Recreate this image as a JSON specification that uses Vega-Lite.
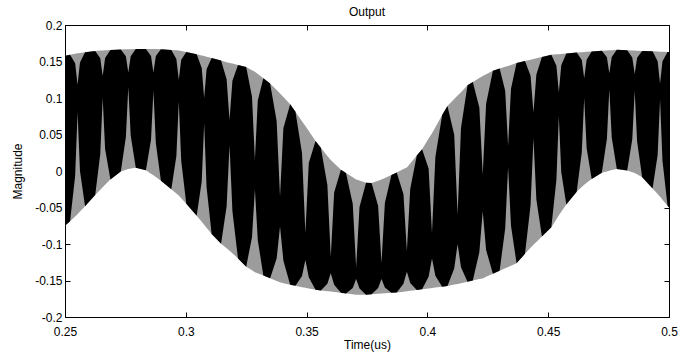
{
  "$schema": "https://vega.github.io/schema/vega-lite/v6.json",
  "width": 604,
  "height": 292,
  "autosize": {"type": "none"},
  "padding": {"left": 65, "top": 25, "right": 20, "bottom": 43},
  "background": "white",
  "config": {
    "view": {"stroke": null},
    "font": "Liberation Sans",
    "axis": {
      "labelFont": "Liberation Sans", "labelFontSize": 12, "labelColor": "black",
      "titleFont": "Liberation Sans", "titleFontSize": 12, "titleFontWeight": "normal", "titleColor": "black",
      "domainColor": "black", "domainWidth": 1, "tickColor": "black", "tickWidth": 1,
      "grid": false, "tickSize": -5
    }
  },
  "title": {"text": "Output", "fontSize": 12, "fontWeight": "normal", "font": "Liberation Sans", "color": "black", "offset": 0},
  "data": {"values": [
    {"x":0.25,"u":0.158,"l":-0.075,"t":0.158,"b":-0.075},
    {"x":0.2521,"u":0.1593,"l":-0.0687,"t":0.1593,"b":-0.0687},
    {"x":0.2542,"u":0.1606,"l":-0.0624,"t":0.1476,"b":-0.0067},
    {"x":0.2552,"u":0.1613,"l":-0.0592,"t":0.118,"b":0.08},
    {"x":0.2562,"u":0.1618,"l":-0.0556,"t":0.1488,"b":0.0001},
    {"x":0.2583,"u":0.1628,"l":-0.0483,"t":0.1628,"b":-0.0483},
    {"x":0.2625,"u":0.1643,"l":-0.0328,"t":0.1643,"b":-0.0328},
    {"x":0.2646,"u":0.1649,"l":-0.0257,"t":0.1543,"b":0.0232},
    {"x":0.2656,"u":0.1652,"l":-0.0222,"t":0.13,"b":0.1},
    {"x":0.2666,"u":0.1654,"l":-0.0187,"t":0.1548,"b":0.0302},
    {"x":0.2688,"u":0.1657,"l":-0.0117,"t":0.1657,"b":-0.0117},
    {"x":0.2731,"u":0.1664,"l":-0.0007,"t":0.1664,"b":-0.0007},
    {"x":0.2752,"u":0.1667,"l":0.0016,"t":0.1571,"b":0.0465},
    {"x":0.2762,"u":0.1669,"l":0.0028,"t":0.135,"b":0.115},
    {"x":0.2772,"u":0.1669,"l":0.0033,"t":0.1573,"b":0.0482},
    {"x":0.2793,"u":0.167,"l":0.0043,"t":0.167,"b":0.0043},
    {"x":0.2835,"u":0.167,"l":0.0011,"t":0.167,"b":0.0011},
    {"x":0.2856,"u":0.167,"l":-0.0036,"t":0.1574,"b":0.0428},
    {"x":0.2866,"u":0.167,"l":-0.0059,"t":0.135,"b":0.11},
    {"x":0.2876,"u":0.167,"l":-0.0083,"t":0.1574,"b":0.0381},
    {"x":0.2897,"u":0.1669,"l":-0.0132,"t":0.1669,"b":-0.0132},
    {"x":0.294,"u":0.1659,"l":-0.025,"t":0.1659,"b":-0.025},
    {"x":0.2961,"u":0.1654,"l":-0.0307,"t":0.1534,"b":0.0207},
    {"x":0.2971,"u":0.1651,"l":-0.0336,"t":0.125,"b":0.095},
    {"x":0.2981,"u":0.1644,"l":-0.0373,"t":0.1524,"b":0.0141},
    {"x":0.3002,"u":0.1631,"l":-0.0447,"t":0.1631,"b":-0.0447},
    {"x":0.3045,"u":0.16,"l":-0.0612,"t":0.16,"b":-0.0612},
    {"x":0.3066,"u":0.1583,"l":-0.0695,"t":0.1411,"b":-0.014},
    {"x":0.3076,"u":0.1574,"l":-0.0737,"t":0.1,"b":0.065},
    {"x":0.3086,"u":0.1565,"l":-0.0779,"t":0.1393,"b":-0.0224},
    {"x":0.3107,"u":0.1547,"l":-0.0862,"t":0.1547,"b":-0.0862},
    {"x":0.3146,"u":0.1512,"l":-0.0995,"t":0.1512,"b":-0.0995},
    {"x":0.3169,"u":0.1491,"l":-0.1059,"t":0.1257,"b":-0.0483},
    {"x":0.3181,"u":0.1481,"l":-0.1091,"t":0.07,"b":0.035},
    {"x":0.3193,"u":0.1471,"l":-0.1127,"t":0.1237,"b":-0.0551},
    {"x":0.3216,"u":0.1452,"l":-0.1198,"t":0.1452,"b":-0.1198},
    {"x":0.325,"u":0.1423,"l":-0.131,"t":0.1423,"b":-0.131},
    {"x":0.3274,"u":0.1381,"l":-0.1361,"t":0.1018,"b":-0.0907},
    {"x":0.3286,"u":0.136,"l":-0.1386,"t":0.015,"b":-0.025},
    {"x":0.3298,"u":0.133,"l":-0.1402,"t":0.0967,"b":-0.0948},
    {"x":0.3321,"u":0.127,"l":-0.1433,"t":0.127,"b":-0.1433},
    {"x":0.3349,"u":0.1199,"l":-0.147,"t":0.1199,"b":-0.147},
    {"x":0.3376,"u":0.1108,"l":-0.1506,"t":0.0684,"b":-0.12},
    {"x":0.339,"u":0.1063,"l":-0.1524,"t":-0.035,"b":-0.076},
    {"x":0.3404,"u":0.1013,"l":-0.1536,"t":0.0589,"b":-0.123},
    {"x":0.3432,"u":0.0913,"l":-0.1559,"t":0.0913,"b":-0.1559},
    {"x":0.3454,"u":0.0813,"l":-0.1573,"t":0.0813,"b":-0.1573},
    {"x":0.3481,"u":0.0682,"l":-0.1591,"t":0.0242,"b":-0.1439},
    {"x":0.3495,"u":0.0617,"l":-0.16,"t":-0.085,"b":-0.122},
    {"x":0.3509,"u":0.0548,"l":-0.1609,"t":0.0108,"b":-0.1457},
    {"x":0.3537,"u":0.0411,"l":-0.1626,"t":0.0411,"b":-0.1626},
    {"x":0.3559,"u":0.0317,"l":-0.1636,"t":0.0317,"b":-0.1636},
    {"x":0.3586,"u":0.0207,"l":-0.1647,"t":-0.0193,"b":-0.1546},
    {"x":0.36,"u":0.0152,"l":-0.1652,"t":-0.118,"b":-0.14},
    {"x":0.3614,"u":0.0107,"l":-0.1658,"t":-0.0293,"b":-0.1557},
    {"x":0.3642,"u":0.0017,"l":-0.1669,"t":0.0017,"b":-0.1669},
    {"x":0.3663,"u":-0.0029,"l":-0.1677,"t":-0.0029,"b":-0.1677},
    {"x":0.3691,"u":-0.0087,"l":-0.1688,"t":-0.0448,"b":-0.1602},
    {"x":0.3705,"u":-0.0116,"l":-0.1694,"t":-0.132,"b":-0.148},
    {"x":0.3719,"u":-0.0131,"l":-0.1694,"t":-0.0492,"b":-0.1608},
    {"x":0.3746,"u":-0.0162,"l":-0.1694,"t":-0.0162,"b":-0.1694},
    {"x":0.3769,"u":-0.0163,"l":-0.1689,"t":-0.0163,"b":-0.1689},
    {"x":0.3796,"u":-0.0132,"l":-0.1682,"t":-0.0475,"b":-0.1602},
    {"x":0.381,"u":-0.0116,"l":-0.1679,"t":-0.126,"b":-0.148},
    {"x":0.3824,"u":-0.0096,"l":-0.1676,"t":-0.0439,"b":-0.1596},
    {"x":0.3851,"u":-0.0056,"l":-0.1669,"t":-0.0056,"b":-0.1669},
    {"x":0.3873,"u":-0.002,"l":-0.1663,"t":-0.002,"b":-0.1663},
    {"x":0.3901,"u":0.0026,"l":-0.1653,"t":-0.0319,"b":-0.1546},
    {"x":0.3915,"u":0.0049,"l":-0.1648,"t":-0.11,"b":-0.138},
    {"x":0.3929,"u":0.0103,"l":-0.1642,"t":-0.0242,"b":-0.1535},
    {"x":0.3956,"u":0.0212,"l":-0.163,"t":0.0212,"b":-0.163},
    {"x":0.3978,"u":0.0299,"l":-0.162,"t":0.0299,"b":-0.162},
    {"x":0.4005,"u":0.0445,"l":-0.1608,"t":0.0035,"b":-0.1447},
    {"x":0.4019,"u":0.0518,"l":-0.1602,"t":-0.085,"b":-0.12},
    {"x":0.4033,"u":0.0601,"l":-0.1596,"t":0.0191,"b":-0.1435},
    {"x":0.4061,"u":0.0766,"l":-0.1584,"t":0.0766,"b":-0.1584},
    {"x":0.4083,"u":0.0889,"l":-0.1575,"t":0.0889,"b":-0.1575},
    {"x":0.4111,"u":0.0985,"l":-0.1556,"t":0.0495,"b":-0.1337},
    {"x":0.4125,"u":0.1033,"l":-0.1547,"t":-0.06,"b":-0.1},
    {"x":0.4139,"u":0.108,"l":-0.1537,"t":0.059,"b":-0.1318},
    {"x":0.4166,"u":0.1173,"l":-0.1517,"t":0.1173,"b":-0.1517},
    {"x":0.4188,"u":0.1219,"l":-0.1501,"t":0.1219,"b":-0.1501},
    {"x":0.4215,"u":0.1274,"l":-0.1481,"t":0.0869,"b":-0.1113},
    {"x":0.4229,"u":0.1301,"l":-0.1471,"t":-0.005,"b":-0.055},
    {"x":0.4243,"u":0.1325,"l":-0.145,"t":0.092,"b":-0.1082},
    {"x":0.4271,"u":0.1372,"l":-0.1409,"t":0.1372,"b":-0.1409},
    {"x":0.4299,"u":0.1403,"l":-0.1367,"t":0.1403,"b":-0.1367},
    {"x":0.4322,"u":0.1428,"l":-0.1332,"t":0.1101,"b":-0.0786},
    {"x":0.4334,"u":0.144,"l":-0.1315,"t":0.035,"b":0.005},
    {"x":0.4346,"u":0.1453,"l":-0.1297,"t":0.1126,"b":-0.0751},
    {"x":0.4369,"u":0.1478,"l":-0.1262,"t":0.1478,"b":-0.1262},
    {"x":0.4404,"u":0.1506,"l":-0.1134,"t":0.1506,"b":-0.1134},
    {"x":0.4427,"u":0.1525,"l":-0.1052,"t":0.1304,"b":-0.0468},
    {"x":0.4439,"u":0.1535,"l":-0.1011,"t":0.08,"b":0.045},
    {"x":0.4451,"u":0.1544,"l":-0.0973,"t":0.1323,"b":-0.0389},
    {"x":0.4474,"u":0.1563,"l":-0.0897,"t":0.1563,"b":-0.0897},
    {"x":0.4513,"u":0.1592,"l":-0.0771,"t":0.1592,"b":-0.0771},
    {"x":0.4534,"u":0.1598,"l":-0.0661,"t":0.1442,"b":-0.0119},
    {"x":0.4544,"u":0.1601,"l":-0.0606,"t":0.108,"b":0.075},
    {"x":0.4554,"u":0.1604,"l":-0.0557,"t":0.1448,"b":-0.0015},
    {"x":0.4575,"u":0.161,"l":-0.0459,"t":0.161,"b":-0.0459},
    {"x":0.4618,"u":0.1622,"l":-0.0284,"t":0.1622,"b":-0.0284},
    {"x":0.4639,"u":0.1628,"l":-0.0219,"t":0.152,"b":0.0256},
    {"x":0.4649,"u":0.1631,"l":-0.0187,"t":0.127,"b":0.1},
    {"x":0.4659,"u":0.1633,"l":-0.0161,"t":0.1525,"b":0.0314},
    {"x":0.468,"u":0.1638,"l":-0.0108,"t":0.1638,"b":-0.0108},
    {"x":0.4722,"u":0.1647,"l":-0.0023,"t":0.1647,"b":-0.0023},
    {"x":0.4743,"u":0.1651,"l":-0.0006,"t":0.1557,"b":0.0441},
    {"x":0.4753,"u":0.1653,"l":0.0003,"t":0.134,"b":0.112},
    {"x":0.4763,"u":0.1655,"l":0.0012,"t":0.1561,"b":0.0459},
    {"x":0.4784,"u":0.166,"l":0.0029,"t":0.166,"b":0.0029},
    {"x":0.4827,"u":0.1654,"l":0.0007,"t":0.1654,"b":0.0007},
    {"x":0.4848,"u":0.1651,"l":-0.0016,"t":0.1555,"b":0.0435},
    {"x":0.4858,"u":0.165,"l":-0.0027,"t":0.133,"b":0.11},
    {"x":0.4868,"u":0.1648,"l":-0.0046,"t":0.1552,"b":0.0405},
    {"x":0.4889,"u":0.1645,"l":-0.0085,"t":0.1645,"b":-0.0085},
    {"x":0.4932,"u":0.1639,"l":-0.0239,"t":0.1639,"b":-0.0239},
    {"x":0.4953,"u":0.1636,"l":-0.0314,"t":0.1505,"b":0.0219},
    {"x":0.4963,"u":0.1635,"l":-0.0352,"t":0.12,"b":0.098},
    {"x":0.4973,"u":0.1634,"l":-0.0394,"t":0.1503,"b":0.0139},
    {"x":0.4994,"u":0.1631,"l":-0.0477,"t":0.1631,"b":-0.0477},
    {"x":0.5,"u":0.163,"l":-0.05,"t":0.163,"b":-0.05}
  ]},
  "layer": [
    {
      "mark": {"type": "area", "color": "#9c9c9c", "interpolate": "linear"},
      "encoding": {
        "x": {"field": "x", "type": "quantitative",
          "scale": {"domain": [0.25, 0.5], "nice": false, "zero": false},
          "axis": {"orient": "bottom", "title": "Time(us)", "values": [0.25, 0.3, 0.35, 0.4, 0.45, 0.5],
            "labelExpr": "replace(format(datum.value, '.2~f'), '\u2212', '-')", "labelPadding": 14, "titlePadding": 2, "labelFlush": false, "labelOverlap": false}},
        "y": {"field": "u", "type": "quantitative",
          "scale": {"domain": [-0.2, 0.2], "nice": false, "zero": false},
          "axis": {"orient": "left", "title": "Magnitude", "values": [-0.2, -0.15, -0.1, -0.05, 0, 0.05, 0.1, 0.15, 0.2],
            "labelExpr": "replace(format(datum.value, '.2~f'), '\u2212', '-')", "labelPadding": 8, "titlePadding": 10, "labelFlush": false, "labelOverlap": false}},
        "y2": {"field": "l"}
      }
    },
    {
      "mark": {"type": "area", "color": "#000000", "interpolate": "linear"},
      "encoding": {
        "x": {"field": "x", "type": "quantitative",
          "axis": {"orient": "top", "title": null, "labels": false, "values": [0.25, 0.3, 0.35, 0.4, 0.45, 0.5]}},
        "y": {"field": "t", "type": "quantitative",
          "axis": {"orient": "right", "title": null, "labels": false, "values": [-0.2, -0.15, -0.1, -0.05, 0, 0.05, 0.1, 0.15, 0.2]}},
        "y2": {"field": "b"}
      }
    }
  ],
  "resolve": {"axis": {"x": "independent", "y": "independent"}}
}
